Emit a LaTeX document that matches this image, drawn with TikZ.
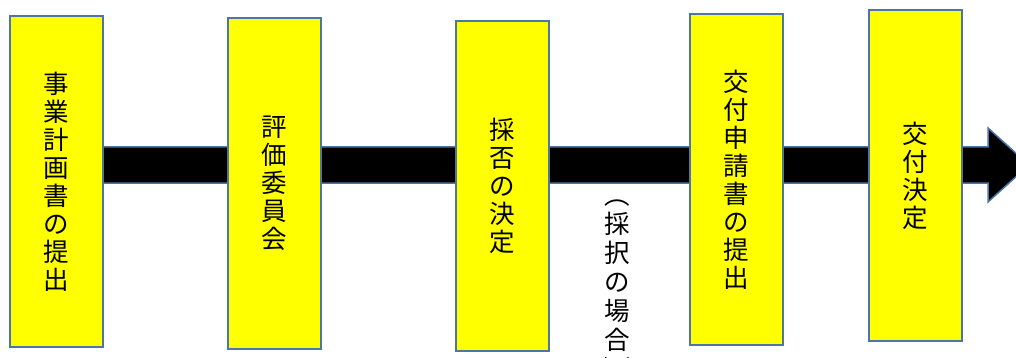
\documentclass[tikz,border=0pt]{standalone}
\usepackage{fontspec}
\newfontfamily\jp{Noto Sans CJK JP}
\definecolor{bordc}{HTML}{4A76A8}
\definecolor{boxfill}{HTML}{FFFF00}
\begin{document}
\begin{tikzpicture}[x=1pt,y=-1pt,
  stagebox/.style={draw=bordc, line width=1.8pt, fill=boxfill, inner sep=0pt,
    minimum width=93pt, minimum height=331pt, align=center,
    font=\jp\fontsize{25.5}{28}\selectfont},
  flowarrow/.style={draw=bordc, line width=1.5pt, fill=black, line join=miter},
  note/.style={inner sep=0pt, align=center, font=\jp\fontsize{25.5}{29}\selectfont}]
\useasboundingbox (0,0) rectangle (1016,358);
% named points of the big arrow
\coordinate (a1) at (56,147);
\coordinate (a2) at (988,147);
\coordinate (a3) at (988,128);
\coordinate (tip) at (1029,165);
\coordinate (a5) at (988,202);
\coordinate (a6) at (988,183);
\coordinate (a7) at (56,183);
\draw[flowarrow] (a1) -- (a2) -- (a3) -- (tip) -- (a5) -- (a6) -- (a7) -- cycle;
% stages
\node[stagebox] (b1) at (56.5,181.5) {事\\業\\計\\画\\書\\の\\提\\出};
\node[stagebox] (b2) at (274.5,183.5) {評\\価\\委\\員\\会};
\node[stagebox, minimum height=330pt] (b3) at (502.5,186) {採\\否\\の\\決\\定};
\node[stagebox] (b4) at (736.5,179.5) {交\\付\\申\\請\\書\\の\\提\\出};
\node[stagebox] (b5) at (915.5,175.5) {交\\付\\決\\定};
% note
\node[note] (n1) at (617.5,289) {︵\\採\\択\\の\\場\\合\\︶};
\end{tikzpicture}
\end{document}
